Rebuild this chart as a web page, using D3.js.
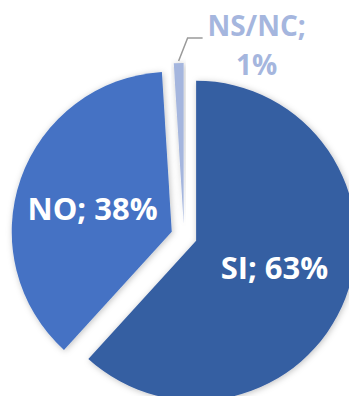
<!DOCTYPE html>
<html>
<head>
<meta charset="utf-8">
<script src="https://cdn.jsdelivr.net/npm/d3@7"></script>
<style>
  html, body { margin: 0; padding: 0; background: #fff; }
  svg { display: block; }
  text { font-family: "Open Sans", sans-serif; font-weight: 700; }
</style>
</head>
<body>
<svg id="chart" width="349" height="396"></svg>
<script>
// Survey answers
const categories = ["SI", "NO", "NS/NC"];
const values = [63, 38, 1];
const labels = ["SI; 63%", "NO; 38%", "NS/NC;\n1%"];
const colors = ["#365ea2", "#4472c4", "#a5b6de"];

const width = 349, height = 396;
const cx = 184, cy = 236;
const radius = 160;
const explode = 13;
const labelNudge = [-4, 4, 0];

const svg = d3.select("#chart");

const defs = svg.append("defs");
const shadow = defs.append("filter").attr("id", "shadow")
  .attr("x", "-20%").attr("y", "-20%").attr("width", "140%").attr("height", "140%");
shadow.append("feDropShadow")
  .attr("dx", 1).attr("dy", 1).attr("stdDeviation", 3)
  .attr("flood-color", "#000").attr("flood-opacity", 0.25);

const pie = d3.pie().sort(null).value(d => d)(values);
const arc = d3.arc().innerRadius(0).outerRadius(radius);

const mid = d => (d.startAngle + d.endAngle) / 2;
const offset = (d, r) => [Math.sin(mid(d)) * r, -Math.cos(mid(d)) * r];

const g = svg.append("g").attr("transform", `translate(${cx},${cy})`);

const slices = g.selectAll("g.slice").data(pie).join("g")
  .attr("class", "slice")
  .attr("transform", d => {
    const [x, y] = offset(d, explode);
    return `translate(${x},${y})`;
  });

slices.append("path")
  .attr("d", arc)
  .attr("fill", (d, i) => colors[i])
  .attr("filter", "url(#shadow)");

// Inside labels for the two large slices
slices.filter((d, i) => i < 2).append("text")
  .attr("text-anchor", "middle")
  .attr("dominant-baseline", "central")
  .attr("x", d => offset(d, 84)[0])
  .attr("y", (d, i) => offset(d, 84)[1] + labelNudge[i])
  .attr("fill", "#fff")
  .attr("font-size", 31)
  .text((d, i) => labels[i]);

// Outside label with a leader line for the small slice
const small = slices.filter((d, i) => i === 2);
small.each(function(d) {
  const sel = d3.select(this);
  const [px, py] = offset(d, radius + 2);
  const elbow = [px + 9, py - 23];
  const end = [elbow[0] + 15, elbow[1]];
  sel.append("polyline")
    .attr("points", [[px, py], elbow, end].map(p => p.join(",")).join(" "))
    .attr("fill", "none")
    .attr("stroke", "#9a9a9a")
    .attr("stroke-width", 1.5);
  labels[2].split("\n").forEach((line, k) => {
    sel.append("text")
      .attr("text-anchor", "middle")
      .attr("fill", colors[2])
      .attr("font-size", 28)
      .attr("x", end[0] + 54)
      .attr("y", end[1] - 2 + k * 39)
      .text(line);
  });
});
</script>
</body>
</html>
